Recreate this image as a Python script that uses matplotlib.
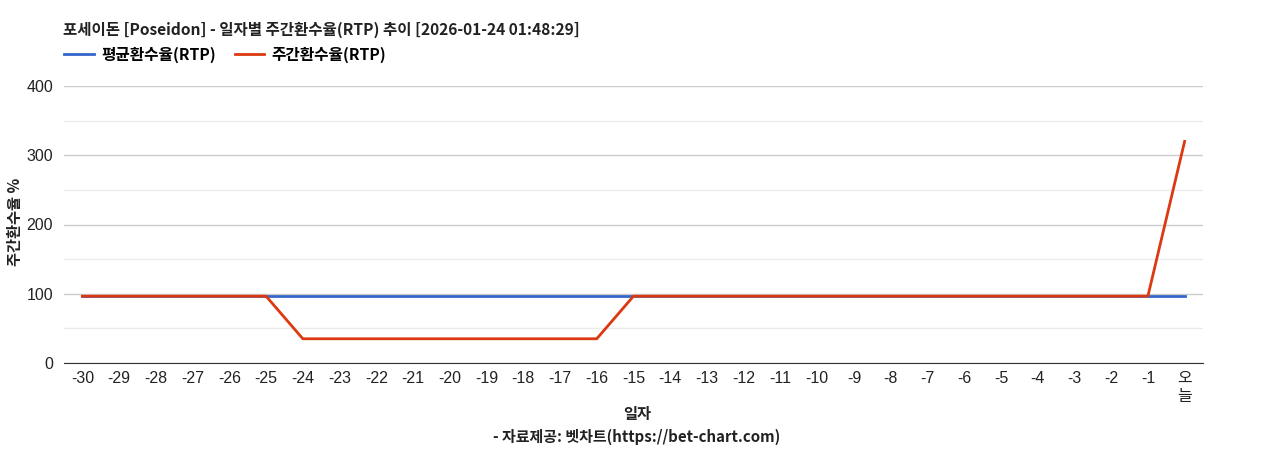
import matplotlib
matplotlib.use("Agg")
import matplotlib.pyplot as plt
from matplotlib.ticker import MultipleLocator

plt.rcParams['font.family'] = ['Liberation Sans', 'Noto Sans CJK KR', 'DejaVu Sans']

days = [str(d) for d in range(-30, 0)] + ["오\n늘"]
avg_rtp = [96.5] * 31
weekly_rtp = [96.5] * 6 + [35] * 9 + [96.5] * 15 + [320]

title = "포세이돈 [Poseidon] - 일자별 주간환수율(RTP) 추이 [2026-01-24 01:48:29]"
series_names = ["평균환수율(RTP)", "주간환수율(RTP)"]
y_label = "주간환수율 %"
x_label = "일자"
source = "- 자료제공: 벳차트(https://bet-chart.com)"

kr = ['Noto Sans CJK KR', 'DejaVu Sans']

fig = plt.figure(figsize=(12.68, 4.5), dpi=100)
ax = fig.add_axes([64/1268, 87/450, (1203-64)/1268, (363-86)/450])

x = list(range(len(days)))
ax.plot(x, avg_rtp, color="#3366cc", lw=2, label=series_names[0], zorder=3)
ax.plot(x, weekly_rtp, color="#dc3912", lw=2, label=series_names[1], zorder=4)

ax.set_xlim(-0.5, len(days) - 0.5)
ax.set_ylim(0, 400)
ax.yaxis.set_major_locator(MultipleLocator(100))
ax.yaxis.set_minor_locator(MultipleLocator(50))
ax.grid(which='major', axis='y', color='#cccccc', lw=1)
ax.grid(which='minor', axis='y', color='#ebebeb', lw=1)
ax.set_axisbelow(True)
for s in ['top', 'right', 'left']:
    ax.spines[s].set_visible(False)
ax.spines['bottom'].set_color('#333333')
ax.tick_params(axis='both', which='both', length=0, labelsize=11.5, colors='#222222')
ax.tick_params(axis='x', pad=6)
ax.tick_params(axis='y', pad=8)
ax.set_xticks(x)
ax.set_xticklabels(days, linespacing=1.25, va='top')

fig.text(15/1268, 1 - 222/450, y_label, family=kr, fontsize=11, fontweight='bold', rotation=90,
         ha='center', va='center', color='#222222')

fig.text(63/1268, 1 - 30/450, title, family=kr, fontsize=11.2, fontweight='bold', va='center', ha='left', color='#222222')
leg = fig.legend(loc='center left', bbox_to_anchor=(50/1268, 1 - 55/450), ncol=2, frameon=False,
                 prop={'family': kr, 'size': 11.3, 'weight': 'bold'}, handlelength=1.9, columnspacing=1.2, handletextpad=0.45)
fig.text(637/1268, 1 - 414/450, x_label, family=kr, fontsize=11, fontweight='bold', ha='center', va='center', color='#222222')
fig.text(637/1268, 1 - 437/450, source, family=kr, fontsize=10.8, fontweight='bold', ha='center', va='center', color='#222222')

fig.savefig("out.png", dpi=100, facecolor='white')
